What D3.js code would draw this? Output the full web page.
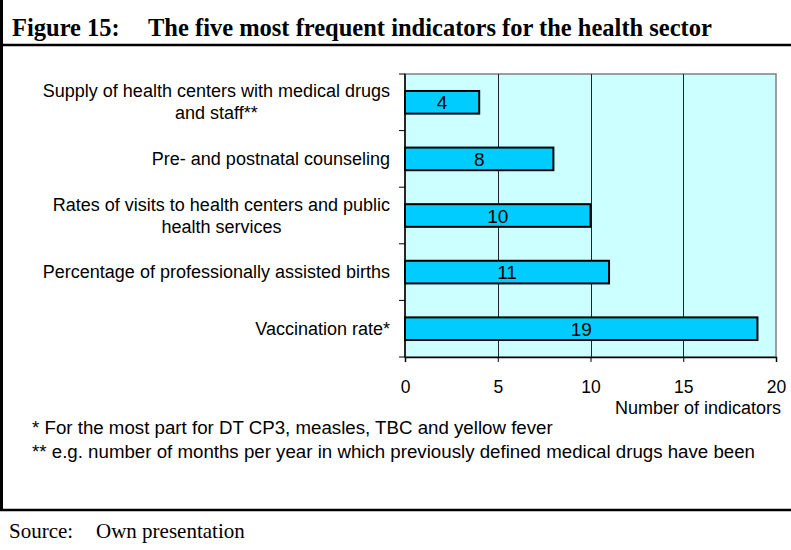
<!DOCTYPE html>
<html lang="en">
<head>
<meta charset="UTF-8">
<title>Figure 15: The five most frequent indicators for the health sector</title>
<script src="https://d3js.org/d3.v7.min.js"></script>
<style>
    body { margin: 0; background: #fff; }
    svg { display: block; }
    .sans { font-family: Arial, "Liberation Sans", sans-serif; }
    .serif { font-family: "Times New Roman", "Liberation Serif", serif; }
</style>
</head>
<body>
<div id="chart"></div>
<script>
// Data
const categories = [
    ["Supply of health centers with medical drugs", "and staff**"],
    ["Pre- and postnatal counseling"],
    ["Rates of visits to health centers and public", "health services"],
    ["Percentage of professionally assisted births"],
    ["Vaccination rate*"]
];
const values = [4, 8, 10, 11, 19];
const xTicks = [0, 5, 10, 15, 20];
const footnotes = [
    "* For the most part for DT CP3, measles, TBC and yellow fever",
    "** e.g. number of months per year in which previously defined medical drugs have been"
];

const W = 791, H = 550;
const plot = {left: 405, right: 776, top: 74, bottom: 357};

const svg = d3.select("#chart").append("svg")
    .attr("width", W)
    .attr("height", H);

// frame lines
svg.append("line").attr("x1", 1.5).attr("x2", 1.5).attr("y1", 0).attr("y2", 511)
    .attr("stroke", "#000").attr("stroke-width", 3);
svg.append("line").attr("x1", 0).attr("x2", W).attr("y1", 45).attr("y2", 45)
    .attr("stroke", "#000").attr("stroke-width", 2.5);
svg.append("line").attr("x1", 0).attr("x2", W).attr("y1", 510).attr("y2", 510)
    .attr("stroke", "#000").attr("stroke-width", 2.5);

// title
svg.append("text").attr("class", "serif")
    .attr("x", 12).attr("y", 36)
    .style("font-size", "24.5px").style("font-weight", "bold")
    .text("Figure 15:");
svg.append("text").attr("class", "serif")
    .attr("x", 148).attr("y", 36)
    .style("font-size", "24.5px").style("font-weight", "bold")
    .text("The five most frequent indicators for the health sector");

// scales
const x = d3.scaleLinear().domain([0, 20]).range([plot.left, plot.right]);
const y = d3.scaleBand()
    .domain(d3.range(values.length))
    .range([plot.top, plot.bottom])
    .paddingInner(0.6)
    .paddingOuter(0.3);
const step = y.step();

// plot background
svg.append("rect")
    .attr("x", plot.left).attr("y", plot.top)
    .attr("width", plot.right - plot.left).attr("height", plot.bottom - plot.top)
    .attr("fill", "#ccffff")
    .attr("stroke", "#808080").attr("stroke-width", 1.5);

// gridlines
svg.append("g").selectAll("line")
    .data(xTicks.filter(d => d > 0 && d < 20))
    .join("line")
    .attr("x1", d => Math.round(x(d)) + 0.5).attr("x2", d => Math.round(x(d)) + 0.5)
    .attr("y1", plot.top).attr("y2", plot.bottom)
    .attr("stroke", "#222").attr("stroke-width", 1);

// bars
svg.append("g").selectAll("rect")
    .data(values)
    .join("rect")
    .attr("x", x(0))
    .attr("y", (d, i) => y(i))
    .attr("width", d => x(d) - x(0))
    .attr("height", y.bandwidth())
    .attr("fill", "#00ccff")
    .attr("stroke", "#000").attr("stroke-width", 2);

// value labels
svg.append("g").selectAll("text")
    .data(values)
    .join("text")
    .attr("class", "sans")
    .attr("x", d => (x(0) + x(d)) / 2)
    .attr("y", (d, i) => y(i) + y.bandwidth() / 2 + 7)
    .attr("text-anchor", "middle")
    .style("font-size", "19px")
    .text(d => d);

// x axis
const xAxis = svg.append("g")
    .attr("transform", `translate(0,${plot.bottom})`)
    .call(d3.axisBottom(x).tickValues(xTicks).tickSize(5).tickPadding(19));
xAxis.select(".domain").attr("stroke-width", 1.5);
xAxis.selectAll("text").attr("class", "sans").style("font-size", "17.5px").attr("fill", "#000");

svg.append("text").attr("class", "sans")
    .attr("x", 781).attr("y", 414)
    .attr("text-anchor", "end")
    .style("font-size", "18px")
    .text("Number of indicators");

// y axis: ticks at category boundaries
svg.append("line")
    .attr("x1", plot.left).attr("x2", plot.left)
    .attr("y1", plot.top).attr("y2", plot.bottom)
    .attr("stroke", "#000").attr("stroke-width", 1.5);
svg.append("g").selectAll("line")
    .data(d3.range(values.length + 1))
    .join("line")
    .attr("x1", plot.left - 6).attr("x2", plot.left)
    .attr("y1", i => plot.top + i * step).attr("y2", i => plot.top + i * step)
    .attr("stroke", "#000").attr("stroke-width", 1);

// category labels (block right-aligned, lines centred within block)
const labelRight = 390, lineH = 22;
categories.forEach((lines, i) => {
    const cy = y(i) + y.bandwidth() / 2;
    const g = svg.append("g");
    const texts = g.selectAll("text")
        .data(lines)
        .join("text")
        .attr("class", "sans")
        .style("font-size", "18px")
        .attr("y", (d, j) => cy + (j - (lines.length - 1) / 2) * lineH + 6)
        .text(d => d);
    let maxW = 0;
    texts.each(function() { maxW = Math.max(maxW, this.getComputedTextLength()); });
    texts.attr("x", labelRight - maxW / 2).attr("text-anchor", "middle");
});

// footnotes
svg.append("g").selectAll("text")
    .data(footnotes)
    .join("text")
    .attr("class", "sans")
    .attr("x", 32)
    .attr("y", (d, i) => 434 + i * 24)
    .style("font-size", "18.7px")
    .text(d => d);

// source
svg.append("text").attr("class", "serif")
    .attr("x", 9).attr("y", 538)
    .style("font-size", "21px")
    .text("Source:");
svg.append("text").attr("class", "serif")
    .attr("x", 96).attr("y", 538)
    .style("font-size", "21px")
    .text("Own presentation");
</script>
</body>
</html>
